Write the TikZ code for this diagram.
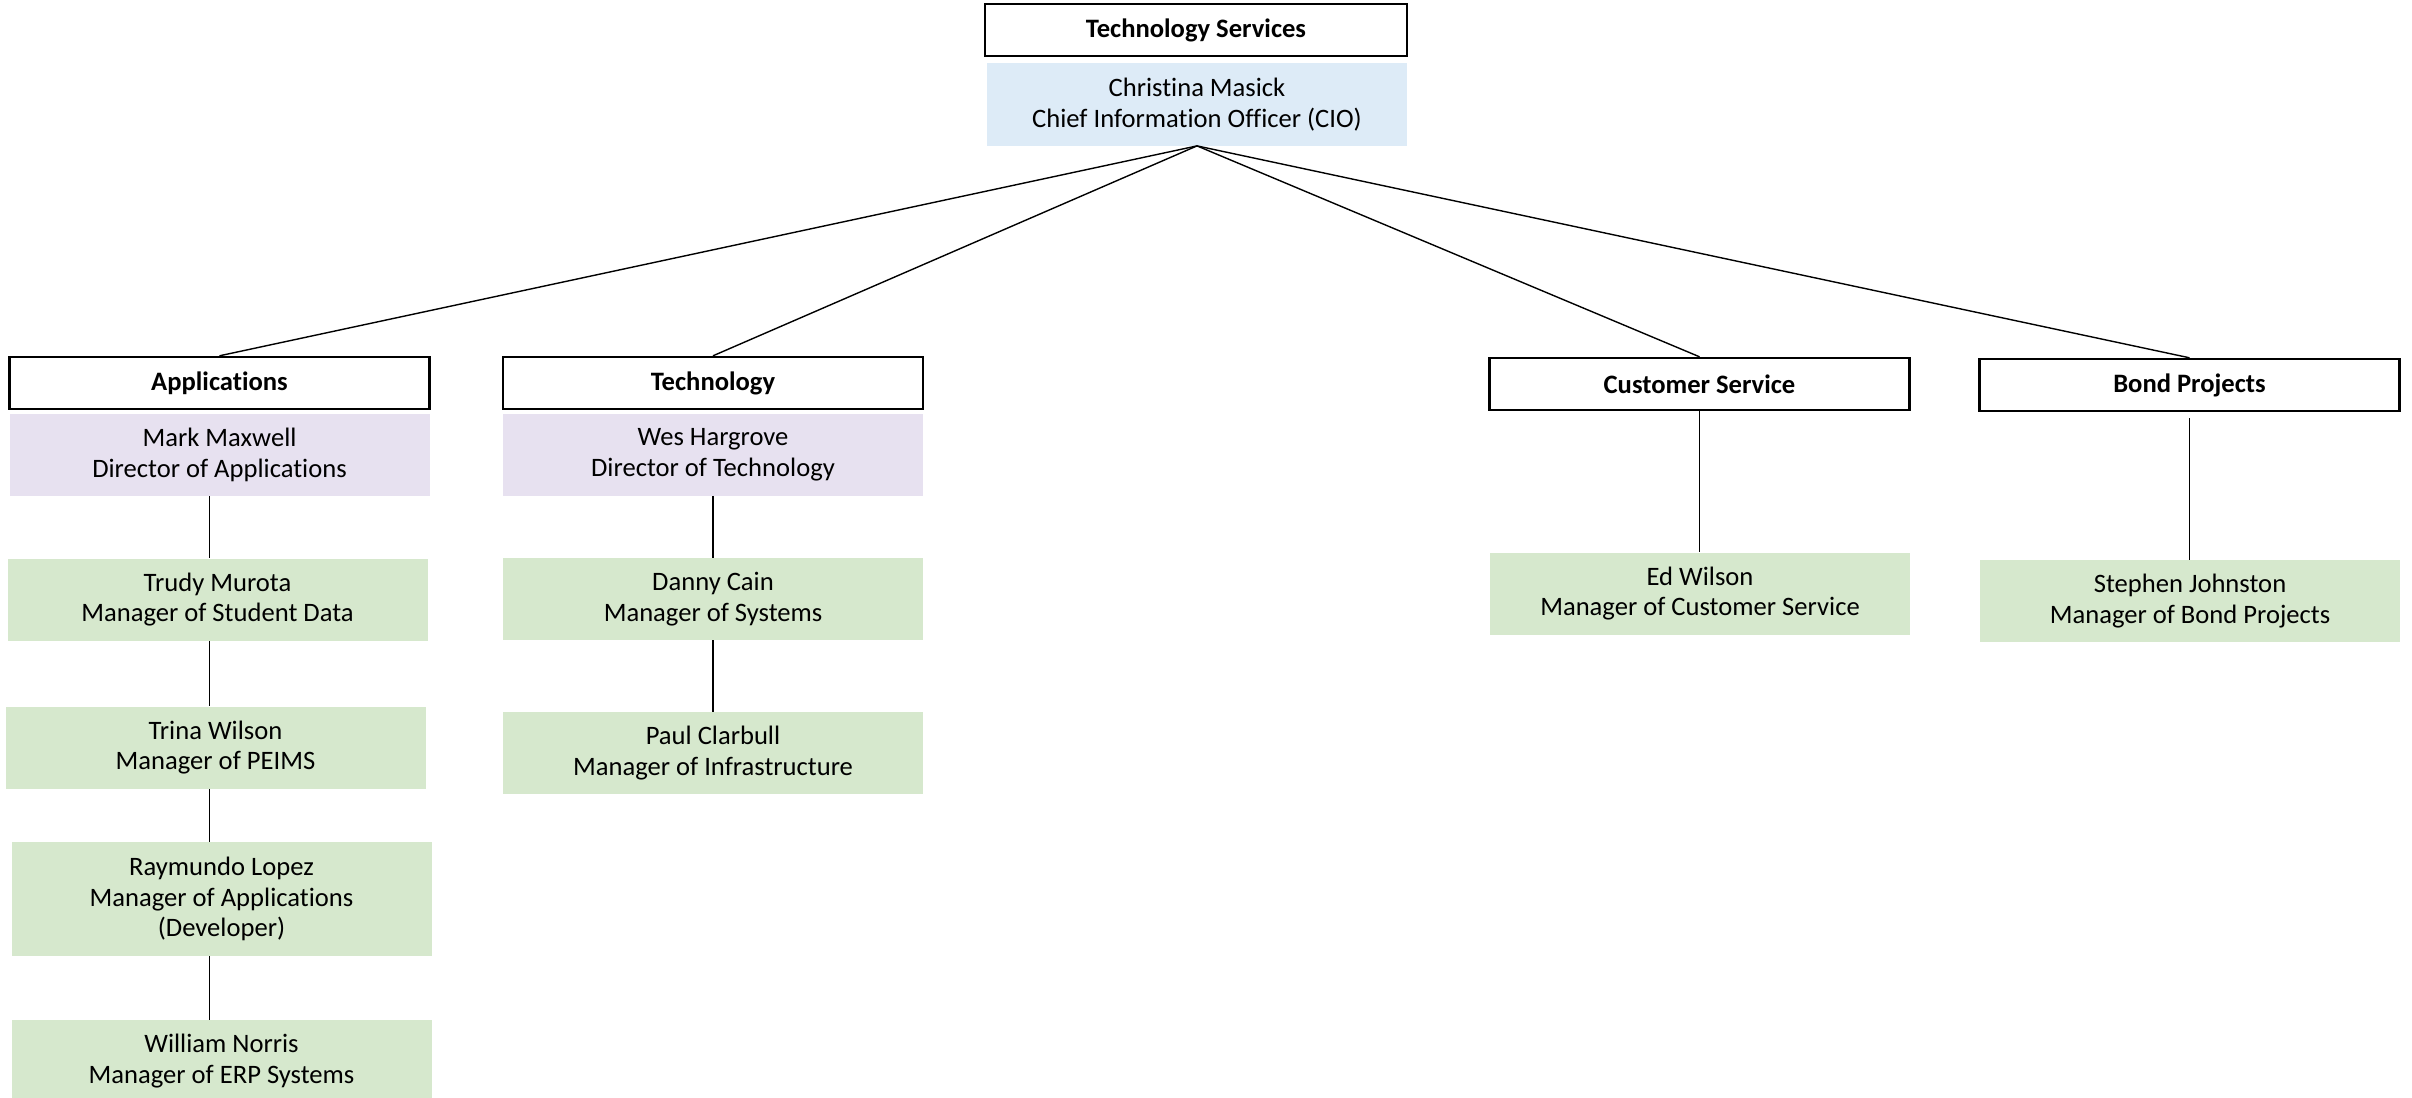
\documentclass[tikz,border=0pt]{standalone}
\usepackage{fontspec}
\setmainfont{Carlito}[Ligatures=CommonOff]
\usetikzlibrary{positioning}

\definecolor{ciobg}{HTML}{DDEBF7}
\definecolor{dirbg}{HTML}{E7E1F0}
\definecolor{mgrbg}{HTML}{D6E8CD}

\begin{document}
\begin{tikzpicture}[x=0.5pt,y=-0.5pt,
    dept/.style={draw=black, line width=1.2pt, fill=white, minimum width=210pt, minimum height=26pt, inner sep=0pt, font=\fontsize{13.3}{15.4}\selectfont\bfseries},
    person/.style={minimum width=210pt, minimum height=41pt, inner sep=0pt, align=center, font=\fontsize{13.3}{15.4}\selectfont},
    link/.style={line width=0.7pt}]
    \useasboundingbox[fill=white] (0,0) rectangle (2412,1097);

    % Top of the chart
    \node[dept, minimum width=211pt] (ts) at (1196,30) {Technology Services};
    \node[person, fill=ciobg] (cio) at (1197,104.5) {Christina Masick\\Chief Information Officer (CIO)};

    % Departments
    \node[dept] (app) at (219.5,383) {Applications};
    \node[dept] (tech) at (713,383) {Technology};
    \node[dept] (cs) at (1699.5,384) {Customer Service};
    \node[dept] (bond) at (2189.5,385) {Bond Projects};

    % Directors
    \node[person, fill=dirbg] (appdir) at (219.5,455) {Mark Maxwell\\Director of Applications};
    \node[person, fill=dirbg] (techdir) at (713,454.5) {Wes Hargrove\\Director of Technology};

    % Applications staff
    \node[person, fill=mgrbg] (trudy) at (217.5,599.5) {Trudy Murota\\Manager of Student Data};
    \node[person, fill=mgrbg] (trina) at (215.5,747.5) {Trina Wilson\\Manager of PEIMS};
    \node[person, fill=mgrbg, minimum height=57pt] (raymundo) at (221.5,899) {Raymundo Lopez\\Manager of Applications\\(Developer)};
    \node[person, fill=mgrbg] (william) at (221.5,1061) {William Norris\\Manager of ERP Systems};

    % Technology staff
    \node[person, fill=mgrbg] (danny) at (713,599) {Danny Cain\\Manager of Systems};
    \node[person, fill=mgrbg] (paul) at (713,753) {Paul Clarbull\\Manager of Infrastructure};

    % Other managers
    \node[person, fill=mgrbg] (ed) at (1700,593.5) {Ed Wilson\\Manager of Customer Service};
    \node[person, fill=mgrbg] (stephen) at (2190,601) {Stephen Johnston\\Manager of Bond Projects};

    % CIO to departments
    \draw[link] (cio.south) -- (app.north);
    \draw[link] (cio.south) -- (tech.north);
    \draw[link] (cio.south) -- (cs.north);
    \draw[link] (cio.south) -- (bond.north);

    % Chains below
    \draw[link] ([xshift=-5pt]appdir.south) -- ([xshift=-5pt]appdir.south |- trudy.north);
    \draw[link] ([xshift=-4pt]trudy.south) -- ([xshift=-4pt]trudy.south |- trina.north);
    \draw[link] ([xshift=-3pt]trina.south) -- ([xshift=-3pt]trina.south |- raymundo.north);
    \draw[link] ([xshift=-6pt]raymundo.south) -- ([xshift=-6pt]raymundo.south |- william.north);
    \draw[link] (techdir.south) -- (techdir.south |- danny.north);
    \draw[link] (danny.south) -- (danny.south |- paul.north);
    \draw[link] (cs.south) -- (cs.south |- ed.north);
    \draw[link] ([yshift=-3pt]bond.south) -- (bond.south |- stephen.north);
\end{tikzpicture}
\end{document}
